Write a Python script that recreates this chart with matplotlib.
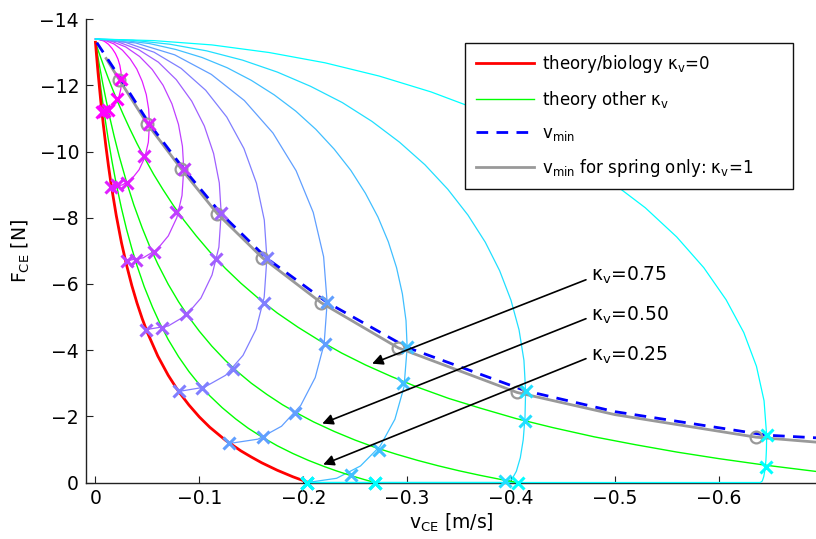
import numpy as np
import matplotlib
matplotlib.use('Agg')
import matplotlib.pyplot as plt
from matplotlib.lines import Line2D
from matplotlib.patches import Rectangle

plt.rcParams['font.family'] = ['DejaVu Sans']
plt.rcParams['mathtext.fontset'] = 'dejavusans'

# ---------------- data (v in m/s, F in N) ----------------
red_v = [0, -0.001, -0.0025, -0.005, -0.0075, -0.01, -0.0125, -0.015, -0.02, -0.025,
         -0.03, -0.035, -0.04, -0.045, -0.05, -0.06, -0.07, -0.08, -0.09, -0.1,
         -0.11, -0.125, -0.14, -0.15, -0.16, -0.175, -0.19, -0.205]
red_F = [-13.3, -12.92, -12.38, -11.56, -10.83, -10.17, -9.57, -9.02, -8.07, -7.25,
         -6.56, -5.95, -5.42, -4.95, -4.53, -3.82, -3.24, -2.75, -2.34, -1.98,
         -1.67, -1.28, -0.955, -0.77, -0.596, -0.37, -0.173, 0]

g25_v = [0, -0.001, -0.003, -0.005, -0.007, -0.0095, -0.012, -0.016, -0.02, -0.025,
         -0.03, -0.035, -0.04, -0.047, -0.055, -0.062, -0.07, -0.08, -0.09, -0.1,
         -0.11, -0.122, -0.135, -0.147, -0.16, -0.175, -0.19, -0.205, -0.22, -0.232,
         -0.245, -0.258, -0.269]
g25_F = [-13.3, -13.01, -12.47, -11.96, -11.49, -10.94, -10.43, -9.69, -9.02, -8.29,
         -7.64, -7.07, -6.55, -5.91, -5.29, -4.81, -4.32, -3.80, -3.35, -2.96,
         -2.62, -2.26, -1.92, -1.64, -1.38, -1.11, -0.876, -0.668, -0.484, -0.350,
         -0.217, -0.0955, 0]

g50_v = [0, -0.001, -0.004, -0.007, -0.01, -0.014, -0.018, -0.023, -0.03, -0.037,
         -0.045, -0.052, -0.06, -0.07, -0.08, -0.09, -0.1, -0.112, -0.125, -0.137,
         -0.15, -0.165, -0.18, -0.195, -0.21, -0.23, -0.25, -0.27, -0.29, -0.31,
         -0.33, -0.35, -0.37, -0.39, -0.406]
g50_F = [-13.3, -13.11, -12.57, -12.06, -11.59, -11.00, -10.46, -9.84, -9.07, -8.38,
         -7.69, -7.15, -6.60, -5.99, -5.46, -4.99, -4.57, -4.12, -3.69, -3.34,
         -3.00, -2.66, -2.35, -2.08, -1.83, -1.54, -1.28, -1.05, -0.851, -0.669,
         -0.504, -0.354, -0.218, -0.0927, 0]

g75_v = [0, -0.002, -0.005, -0.008, -0.012, -0.016, -0.021, -0.027, -0.033, -0.04,
         -0.047, -0.056, -0.065, -0.075, -0.085, -0.097, -0.11, -0.125, -0.14, -0.157,
         -0.175, -0.195, -0.215, -0.237, -0.26, -0.285, -0.31, -0.34, -0.37, -0.405,
         -0.44, -0.48, -0.52, -0.56, -0.6, -0.645, -0.7]
g75_F = [-13.3, -13.11, -12.84, -12.58, -12.24, -11.92, -11.53, -11.10, -10.69, -10.24,
         -9.82, -9.31, -8.85, -8.37, -7.93, -7.45, -6.97, -6.47, -6.02, -5.56,
         -5.12, -4.69, -4.30, -3.91, -3.55, -3.20, -2.88, -2.54, -2.25, -1.93,
         -1.66, -1.38, -1.14, -0.917, -0.721, -0.523, -0.309]

vmin_v = [-0.0013, -0.025, -0.052, -0.085, -0.121, -0.165, -0.223, -0.300, -0.414,
          -0.5, -0.646, -0.6935]
vmin_F = [-13.29, -12.16, -10.83, -9.47, -8.12, -6.77, -5.44, -4.08, -2.77,
          -2.14, -1.43, -1.35]

spring_v = [-0.0103, -0.0231, -0.050, -0.0827, -0.1173, -0.1606, -0.2173, -0.2913,
            -0.4058, -0.5, -0.6356, -0.6935]
spring_F = [-12.81, -12.16, -10.83, -9.47, -8.12, -6.79, -5.43, -4.07,
            -2.72, -2.05, -1.37, -1.22]

circ_v = [-0.0231, -0.050, -0.0827, -0.1173, -0.1606, -0.2173, -0.2913, -0.4058, -0.6356]
circ_F = [-12.16, -10.83, -9.47, -8.12, -6.79, -5.43, -4.07, -2.72, -1.37]

# thin trajectories (magenta -> cyan)
loop_v = [
    [0, -0.0043, -0.0086, -0.0125, -0.0161, -0.0192, -0.0217, -0.0235, -0.0246, -0.025,
     -0.0244, -0.0227, -0.0199, -0.0161, -0.0116, -0.006],
    [0, -0.0090, -0.0178, -0.026, -0.0334, -0.0398, -0.0450, -0.0489, -0.0512, -0.052,
     -0.0509, -0.0475, -0.0420, -0.0347, -0.0258, -0.015],
    [0, -0.0148, -0.0291, -0.0425, -0.0546, -0.0651, -0.0736, -0.0799, -0.0837, -0.085,
     -0.0833, -0.0783, -0.0701, -0.0593, -0.0461, -0.030],
    [0, -0.0210, -0.0414, -0.0605, -0.0778, -0.0927, -0.1048, -0.1137, -0.1192, -0.121,
     -0.1188, -0.1122, -0.1015, -0.0873, -0.0701, -0.049],
    [0, -0.0286, -0.0564, -0.0825, -0.1061, -0.1264, -0.1429, -0.1550, -0.1625, -0.165,
     -0.1624, -0.1546, -0.1420, -0.1253, -0.1049, -0.080],
    [0, -0.0387, -0.0763, -0.1115, -0.1433, -0.1708, -0.1931, -0.2096, -0.2196, -0.223,
     -0.2201, -0.2115, -0.1976, -0.1791, -0.1565, -0.129],
    [0, -0.0262, -0.0521, -0.0776, -0.1026, -0.1268, -0.15, -0.1721, -0.1928, -0.2121,
     -0.2298, -0.2458, -0.2598, -0.2719, -0.2819, -0.2898, -0.2954, -0.2989, -0.300,
     -0.2970, -0.2882, -0.2740, -0.2551, -0.2321, -0.204],
    [0, -0.0361, -0.0719, -0.1071, -0.1416, -0.1750, -0.2070, -0.2375, -0.2661, -0.2927,
     -0.3171, -0.3391, -0.3585, -0.3752, -0.3890, -0.3999, -0.4077, -0.4124, -0.414,
     -0.4134, -0.4117, -0.4089, -0.4051, -0.4006, -0.395, -0.204],
    [0, -0.0563, -0.1121, -0.1672, -0.2209, -0.2730, -0.3230, -0.3705, -0.4152, -0.4568,
     -0.4948, -0.5292, -0.5594, -0.5855, -0.6070, -0.6240, -0.6362, -0.6435, -0.646,
     -0.6458, -0.6453, -0.6444, -0.6432, -0.6418, -0.640, -0.204],
]
loop_F = [
    [-13.4, -13.38, -13.33, -13.24, -13.11, -12.96, -12.79, -12.60, -12.39, -12.18,
     -11.89, -11.66, -11.47, -11.32, -11.23, -11.20],
    [-13.4, -13.36, -13.25, -13.06, -12.80, -12.49, -12.12, -11.72, -11.28, -10.84,
     -10.28, -9.82, -9.45, -9.16, -8.99, -8.93],
    [-13.4, -13.34, -13.16, -12.87, -12.48, -12.00, -11.44, -10.82, -10.16, -9.48,
     -8.67, -8.00, -7.45, -7.04, -6.79, -6.70],
    [-13.4, -13.32, -13.08, -12.70, -12.17, -11.52, -10.77, -9.94, -9.05, -8.14,
     -7.11, -6.27, -5.57, -5.05, -4.73, -4.62],
    [-13.4, -13.30, -13.00, -12.51, -11.85, -11.04, -10.09, -9.04, -7.93, -6.78,
     -5.60, -4.63, -3.84, -3.24, -2.88, -2.75],
    [-13.4, -13.28, -12.92, -12.33, -11.54, -10.56, -9.42, -8.16, -6.82, -5.44,
     -4.19, -3.17, -2.33, -1.70, -1.31, -1.18],
    [-13.4, -13.36, -13.26, -13.08, -12.84, -12.53, -12.15, -11.71, -11.22, -10.67,
     -10.07, -9.43, -8.74, -8.02, -7.27, -6.49, -5.70, -4.89, -4.08,
     -2.89, -1.91, -1.10, -0.50, -0.127, 0],
    [-13.4, -13.36, -13.24, -13.04, -12.76, -12.40, -11.97, -11.48, -10.91, -10.28,
     -9.60, -8.86, -8.08, -7.26, -6.40, -5.51, -4.61, -3.69, -2.76,
     -1.95, -1.29, -0.747, -0.338, -0.086, 0, 0],
    [-13.4, -13.35, -13.22, -12.99, -12.68, -12.28, -11.80, -11.24, -10.60, -9.89,
     -9.12, -8.30, -7.42, -6.49, -5.52, -4.53, -3.51, -2.47, -1.43,
     -1.01, -0.669, -0.387, -0.175, -0.045, 0, 0],
]

# crosses on each trajectory: kappa_v = 0, 0.25, 0.5, 0.75, v_min
cross_v = [
    [-0.006, -0.008, -0.0125, -0.021, -0.025],
    [-0.015, -0.021, -0.030, -0.047, -0.052],
    [-0.030, -0.039, -0.056, -0.078, -0.085],
    [-0.049, -0.064, -0.0875, -0.116, -0.121],
    [-0.080, -0.103, -0.132, -0.1625, -0.165],
    [-0.129, -0.1615, -0.192, -0.221, -0.223],
    [-0.204, -0.246, -0.273, -0.296, -0.300],
    [-0.204, -0.269, -0.394, -0.413, -0.414],
    [-0.204, -0.269, -0.407, -0.645, -0.646],
]
cross_F = [
    [-11.20, -11.22, -11.25, -11.58, -12.18],
    [-8.93, -8.98, -9.05, -9.87, -10.84],
    [-6.70, -6.72, -6.97, -8.18, -9.48],
    [-4.62, -4.68, -5.10, -6.76, -8.14],
    [-2.75, -2.87, -3.44, -5.43, -6.78],
    [-1.18, -1.36, -2.11, -4.19, -5.44],
    [0, -0.24, -0.97, -3.02, -4.08],
    [0, 0, -0.05, -1.87, -2.76],
    [0, 0, 0, -0.48, -1.43],
]

kappa_labels = ['0.75', '0.50', '0.25']

xticks = [0, -0.1, -0.2, -0.3, -0.4, -0.5, -0.6]
xtick_labels = ['0', '\u22120.1', '\u22120.2', '\u22120.3', '\u22120.4', '\u22120.5', '\u22120.6']
yticks = [0, -2, -4, -6, -8, -10, -12, -14]
ytick_labels = ['0', '\u22122', '\u22124', '\u22126', '\u22128', '\u221210', '\u221212', '\u221214']

legend_labels = ['theory/biology \u03ba$_\\mathregular{v}$=0',
                 'theory other \u03ba$_\\mathregular{v}$',
                 'v$_\\mathregular{min}$',
                 'v$_\\mathregular{min}$ for spring only: \u03ba$_\\mathregular{v}$=1']

# ---------------- figure ----------------
W, H = 816, 539
fig = plt.figure(figsize=(W / 100, H / 100), dpi=100)
ax = fig.add_axes([86 / W, (H - 482.5) / H, (W - 86) / W, (482.5 - 19.1) / H])
ax.set_xlim(0.0091, -0.6935)
ax.set_ylim(0, -14)

cmap = plt.get_cmap('cool')
n = len(loop_v)
cols = [cmap(1 - i / (n - 1)) for i in range(n)]

for i in range(n):
    ax.plot(loop_v[i], loop_F[i], color=cols[i], lw=0.9, zorder=2.6, clip_on=False)

ax.plot(g25_v, g25_F, color='#00ff00', lw=1.0, zorder=3)
ax.plot(g50_v, g50_F, color='#00ff00', lw=1.0, zorder=3)
ax.plot(g75_v, g75_F, color='#00ff00', lw=1.0, zorder=3)
ax.plot(red_v, red_F, color='#ff0000', lw=2.0, zorder=3.2, clip_on=False)
ax.plot(spring_v, spring_F, color='#999999', lw=2.0, zorder=3.3)
ax.plot(vmin_v, vmin_F, color='#0000ff', lw=2.0, dashes=(4.2, 3.0), zorder=3.4)

for i in range(n):
    ax.plot(cross_v[i], cross_F[i], 'x', color=cols[i], ms=8, mew=2.2,
            zorder=5, clip_on=False)
ax.plot(circ_v, circ_F, 'o', mfc='none', mec='#999999', ms=8.5, mew=1.6, zorder=4.5)

# annotations (kappa_v arrows)
tails = [(-0.4721, -6.125), (-0.4721, -4.949), (-0.4721, -3.742)]
heads = [(-0.2663, -3.591), (-0.2183, -1.780), (-0.2192, -0.543)]
text_y = [-6.095, -4.889, -3.682]
for lab, t, h, ty in zip(kappa_labels, tails, heads, text_y):
    ax.annotate('', xy=h, xytext=t,
                arrowprops=dict(arrowstyle='-|>', color='k', lw=1.2,
                                shrinkA=0, shrinkB=0, mutation_scale=16),
                zorder=6)
    ax.text(-0.4769, ty, '\u03ba$_\\mathregular{v}$=' + lab, fontsize=13.5,
            ha='left', va='baseline', zorder=6)

# axes styling
for s in ['top', 'right']:
    ax.spines[s].set_visible(False)
for s in ['left', 'bottom']:
    ax.spines[s].set_color('#222222')
    ax.spines[s].set_linewidth(1.0)
ax.set_xticks(xticks)
ax.set_xticklabels(xtick_labels)
ax.set_yticks(yticks)
ax.set_yticklabels(ytick_labels)
ax.tick_params(direction='in', length=5, width=0.8, labelsize=13.5, pad=5,
               color='#222222')
ax.set_xlabel('v$_\\mathregular{CE}$ [m/s]', fontsize=13.5, labelpad=2)
ax.set_ylabel('F$_\\mathregular{CE}$ [N]', fontsize=13.5, labelpad=5)

# legend
handles = [Line2D([], [], color='#ff0000', lw=2.0),
           Line2D([], [], color='#00ff00', lw=1.0),
           Line2D([], [], color='#0000ff', lw=2.0, dashes=(4.2, 3.0)),
           Line2D([], [], color='#999999', lw=2.0)]
box = Rectangle((465 / W, 1 - 189 / H), 328 / W, 146 / H, transform=fig.transFigure,
                facecolor='white', edgecolor='#111111', lw=1.0, zorder=10, clip_on=False)
ax.add_patch(box)
leg = ax.legend(handles, legend_labels, loc='upper left',
                bbox_to_anchor=(471 / W, 1 - 48 / H), bbox_transform=fig.transFigure,
                frameon=False, fontsize=12, borderpad=0.3, handlelength=3.5,
                handletextpad=0.45, labelspacing=0.82, borderaxespad=0)
leg.set_zorder(11)

fig.savefig('out.png', dpi=100)
